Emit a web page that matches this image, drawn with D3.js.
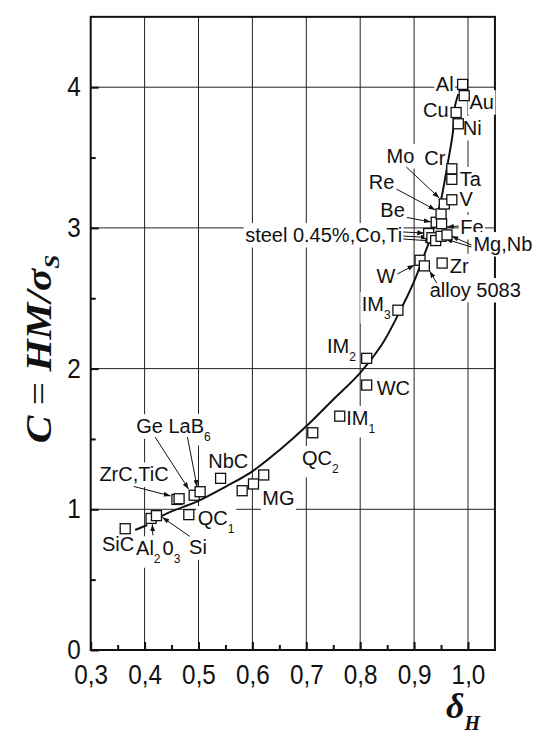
<!DOCTYPE html>
<html>
<head>
<meta charset="utf-8">
<script src="https://cdn.jsdelivr.net/npm/d3@7"></script>
<style>
  body { margin: 0; background: #fff; }
  svg { display: block; }
  .lbl { font-family: "Liberation Sans", Arial, sans-serif; font-size: 20px; fill: #111; }
</style>
</head>
<body>
<svg width="534" height="738"></svg>
<script>
// values (drawing order: back to front)
const materials = ["SiC", "Al2O3", "Si", "QC1", "ZrC", "TiC", "Ge", "LaB6", "NbC",
  "MG", "MG", "MG", "QC2", "IM1", "WC", "IM2", "IM3", "W", "alloy 5083", "Zr",
  "steel 0.45%", "Co", "Ti", "Mg", "Nb", "Be", "Fe", "Re", "Mo", "V", "Ta", "Cr",
  "Cu", "Ni", "Au", "Al"];
const deltaH = [0.364, 0.412, 0.422, 0.482, 0.460, 0.464, 0.492, 0.503, 0.541,
  0.581, 0.602, 0.621, 0.712, 0.762, 0.812, 0.812, 0.870, 0.911, 0.919, 0.952,
  0.927, 0.933, 0.940, 0.950, 0.961, 0.941, 0.951, 0.950, 0.956, 0.970, 0.970, 0.970,
  0.978, 0.982, 0.993, 0.990];
const cRatio = [0.862, 0.935, 0.955, 0.962, 1.07, 1.075, 1.10, 1.125, 1.22,
  1.132, 1.18, 1.244, 1.544, 1.662, 1.883, 2.073, 2.415, 2.77, 2.73, 2.75,
  2.96, 2.93, 2.91, 2.94, 2.95, 3.04, 3.03, 3.10, 3.17, 3.20, 3.345, 3.42,
  3.82, 3.74, 3.94, 4.02];

// fitted curve
const fitDelta = [0.425, 0.45, 0.5, 0.55, 0.6, 0.65, 0.7, 0.75, 0.8, 0.84, 0.87,
  0.9, 0.92, 0.935, 0.95, 0.962, 0.972, 0.975, 0.982];
const fitC = [0.94, 0.985, 1.06, 1.16, 1.27, 1.42, 1.59, 1.78, 1.97, 2.17, 2.38,
  2.62, 2.82, 2.98, 3.2, 3.45, 3.68, 3.85, 3.95];

const xTickValues = [0.3, 0.4, 0.5, 0.6, 0.7, 0.8, 0.9, 1.0];
const xMinorTicks = [0.35, 0.45, 0.55, 0.65, 0.75, 0.85, 0.95];
const yTickValues = [0, 1, 2, 3, 4];
const yMinorTicks = [0.5, 1.5, 2.5, 3.5];

const svg = d3.select("svg");
const x = d3.scaleLinear().domain([0.3, 1.05]).range([90.7, 494.95]);
const y = d3.scaleLinear().domain([0, 4.5]).range([650, 16.85]);

// arrow head
svg.append("defs").append("marker")
  .attr("id", "ah")
  .attr("viewBox", "0 0 10 10")
  .attr("refX", 10).attr("refY", 5)
  .attr("markerWidth", 7).attr("markerHeight", 7)
  .attr("markerUnits", "userSpaceOnUse")
  .attr("orient", "auto")
  .append("path").attr("d", "M0,1.5L10,5L0,8.5Z").attr("fill", "#111");

// grid
const grid = svg.append("g").attr("stroke", "#222").attr("stroke-width", 1);
grid.selectAll(".gx").data(xTickValues.filter(d => d > 0.3)).enter().append("line")
  .attr("x1", d => x(d)).attr("x2", d => x(d))
  .attr("y1", y(0)).attr("y2", y(4.5));
grid.selectAll(".gy").data(yTickValues.filter(d => d > 0)).enter().append("line")
  .attr("y1", d => y(d)).attr("y2", d => y(d))
  .attr("x1", x(0.3)).attr("x2", x(1.05));

// frame
svg.append("rect")
  .attr("x", x(0.3)).attr("y", y(4.5))
  .attr("width", x(1.05) - x(0.3)).attr("height", y(0) - y(4.5))
  .attr("fill", "none").attr("stroke", "#111").attr("stroke-width", 2);

const fmt = d => d3.format(".1f")(d).replace(".", ",");

const styleAxis = g => {
  g.select(".domain").remove();
  g.selectAll("line").attr("stroke", "#111").attr("stroke-width", 2);
  g.attr("font-family", "'Liberation Sans', Arial, sans-serif").attr("font-size", 27);
  g.selectAll("text").attr("fill", "#111").attr("transform", "scale(0.9,1)");
};

svg.append("g").attr("transform", `translate(0,${y(0)})`)
  .call(d3.axisBottom(x).tickValues(xTickValues).tickSizeInner(-8).tickSizeOuter(0)
    .tickPadding(15).tickFormat(fmt))
  .call(styleAxis);
svg.append("g").attr("transform", `translate(0,${y(0)})`)
  .call(d3.axisBottom(x).tickValues(xMinorTicks).tickSizeInner(-5).tickSizeOuter(0).tickFormat(""))
  .call(styleAxis);
svg.append("g").attr("transform", `translate(${x(0.3)},0)`)
  .call(d3.axisLeft(y).tickValues(yTickValues).tickSizeInner(-8).tickSizeOuter(0)
    .tickPadding(11).tickFormat(d3.format("d")))
  .call(styleAxis);
svg.append("g").attr("transform", `translate(${x(0.3)},0)`)
  .call(d3.axisLeft(y).tickValues(yMinorTicks).tickSizeInner(-5).tickSizeOuter(0).tickFormat(""))
  .call(styleAxis);

// labels: offsets in px from the referenced point
const labels = [
  { ref: "Al", text: [["Al"]], dx: -9, dy: 6.6, anchor: "end" },
  { ref: "Au", text: [["Au"]], dx: 5.3, dy: 13.6 },
  { ref: "Cu", text: [["Cu"]], dx: -7.6, dy: 4, anchor: "end" },
  { ref: "Ni", text: [["Ni"]], dx: 4.4, dy: 11.2 },
  { ref: "Cr", text: [["Cr"]], dx: -6.4, dy: -3.8, anchor: "end" },
  { ref: "Ta", text: [["Ta"]], dx: 8, dy: 6.6 },
  { ref: "V", text: [["V"]], dx: 7.6, dy: 6.7 },
  { ref: "Mo", text: [["Mo"]], dx: -30, dy: -41, anchor: "end", arrows: [[-38, -37, -5, -6]] },
  { ref: "Re", text: [["Re"]], dx: -46.6, dy: -24.8, anchor: "end", arrows: [[-44.6, -24.8, -5.6, -3.8]] },
  { ref: "Be", text: [["Be"]], dx: -31.4, dy: -5.3, anchor: "end", arrows: [[-29.4, -4.8, -5.4, -0.3]] },
  { ref: "Fe", text: [["Fe"]], dx: 18.7, dy: 10.3, arrows: [[17.2, 2.3, 5.2, 3.3]] },
  { ref: "steel 0.45%", text: [["steel 0.45%,Co,Ti"]], dx: -26.4, dy: 8.5, anchor: "end",
    arrows: [[-25.4, -1.5, -4.4, -0.5], [-25.4, 2.5, -0.9, 4], [-25.4, 5.5, 3.6, 7.5]] },
  { ref: "Mg", text: [["Mg,Nb"]], dx: 32.4, dy: 14.7,
    arrows: [[30.4, 10.7, 4.4, 2.7], [30.4, 8.7, 10.4, -0.3]] },
  { ref: "W", text: [["W"]], dx: -24.6, dy: 22.7, anchor: "end", arrows: [[-22.6, 13.7, -5.6, 4.7]] },
  { ref: "alloy 5083", text: [["alloy 5083"]], dx: 5.3, dy: 31.1, arrows: [[12.3, 17.1, 5.3, 5.1]] },
  { ref: "Zr", text: [["Zr"]], dx: 7.7, dy: 9.6 },
  { ref: "IM3", text: [["IM"], ["3", true]], dx: -7.2, dy: 0.8, anchor: "end" },
  { ref: "IM2", text: [["IM"], ["2", true]], dx: -10.7, dy: -5.3, anchor: "end" },
  { ref: "WC", text: [["WC"]], dx: 10, dy: 10 },
  { ref: "IM1", text: [["IM"], ["1", true]], dx: 6.5, dy: 8.8 },
  { ref: "QC2", text: [["QC"], ["2", true]], dx: -10.8, dy: 32.2 },
  { ref: "NbC", text: [["NbC"]], dx: -12.4, dy: -10 },
  { ref: "MG", text: [["MG"]], dx: -1.4, dy: 30 },
  { ref: "LaB6", text: [["LaB"], ["6", true]], dx: -31.7, dy: -58.7, arrows: [[-12.7, -54.7, -3, -4.7]] },
  { ref: "Ge", text: [["Ge"]], dx: -58, dy: -62, arrows: [[-39, -58, -5.5, -6]] },
  { ref: "ZrC", text: [["ZrC,TiC"]], dx: -8.3, dy: -18, anchor: "end", arrows: [[-43.3, -13, -6.3, -3.5]] },
  { ref: "QC1", text: [["QC"], ["1", true]], dx: 9, dy: 10.3 },
  { ref: "Si", text: [["Si"]], dx: 32.6, dy: 38.7, arrows: [[33.3, 20.7, 5.8, 1.7]] },
  { ref: "Al2O3", text: [["Al"], ["2", true], ["0"], ["3", true]], dx: -15, dy: 36.8, arrows: [[1.8, 16.8, 1.3, 5.8]] },
  { ref: "SiC", text: [["SiC"]], dx: -23.3, dy: 22.3, lines: [[10, 1.3, 22, -3.7]] }
];

const pos = name => {
  const i = materials.lastIndexOf(name);
  return [x(deltaH[i]), y(cRatio[i])];
};

const labelLayer = svg.append("g");
const curveLayer = svg.append("g");
const arrowLayer = svg.append("g").attr("stroke", "#111").attr("stroke-width", 1);
const pointLayer = svg.append("g");

labels.forEach(l => {
  const [px, py] = pos(l.ref);
  const g = labelLayer.append("g");
  const t = g.append("text").attr("class", "lbl")
    .attr("x", px + l.dx).attr("y", py + l.dy)
    .attr("text-anchor", l.anchor || "start");
  let shifted = false;
  l.text.forEach(([s, sub]) => {
    const ts = t.append("tspan").text(s);
    if (sub) { ts.attr("font-size", 12).attr("dy", 8); shifted = true; }
    else if (shifted) { ts.attr("dy", -8).attr("dx", 2); shifted = false; }
  });
  const b = t.node().getBBox();
  g.insert("rect", "text")
    .attr("x", b.x - 1.5).attr("y", b.y - 1)
    .attr("width", b.width + 3).attr("height", b.height + 2.5)
    .attr("fill", "#fff");
  (l.arrows || []).forEach(a => {
    arrowLayer.append("line")
      .attr("x1", px + a[0]).attr("y1", py + a[1])
      .attr("x2", px + a[2]).attr("y2", py + a[3])
      .attr("marker-end", "url(#ah)");
  });
  (l.lines || []).forEach(a => {
    arrowLayer.append("line").attr("stroke-width", 2)
      .attr("x1", px + a[0]).attr("y1", py + a[1])
      .attr("x2", px + a[2]).attr("y2", py + a[3]);
  });
});

// fitted curve
curveLayer.append("path")
  .datum(fitDelta.map((d, i) => [d, fitC[i]]))
  .attr("fill", "none").attr("stroke", "#111").attr("stroke-width", 2)
  .attr("d", d3.line().x(d => x(d[0])).y(d => y(d[1])).curve(d3.curveCatmullRom.alpha(0.5)));

// open squares
const side = 10;
pointLayer.selectAll("rect").data(materials).enter().append("rect")
  .attr("x", (d, i) => x(deltaH[i]) - side / 2)
  .attr("y", (d, i) => y(cRatio[i]) - side / 2)
  .attr("width", side).attr("height", side)
  .attr("fill", "#fff").attr("stroke", "#111").attr("stroke-width", 1.3);

// axis titles
const yTitle = svg.append("text")
  .attr("transform", "translate(51,349) rotate(-90) scale(1.15,1)")
  .attr("text-anchor", "middle")
  .attr("font-family", "'Liberation Serif', 'Times New Roman', serif")
  .attr("font-size", 36).attr("fill", "#111");
yTitle.append("tspan").attr("font-weight", "bold").attr("font-style", "italic").text("C");
yTitle.append("tspan").text(" = ");
yTitle.append("tspan").attr("font-weight", "bold").attr("font-style", "italic").text("HM/σ");
yTitle.append("tspan").attr("font-style", "italic").attr("font-weight", "bold")
  .attr("font-size", 22).attr("dy", 8).text("S");

const xTitle = svg.append("text")
  .attr("x", 446).attr("y", 718)
  .attr("font-family", "'Liberation Serif', 'Times New Roman', serif")
  .attr("font-size", 36).attr("fill", "#111")
  .attr("font-weight", "bold").attr("font-style", "italic");
xTitle.append("tspan").text("δ");
xTitle.append("tspan").attr("font-size", 20).attr("dy", 12).text("H");
</script>
</body>
</html>
